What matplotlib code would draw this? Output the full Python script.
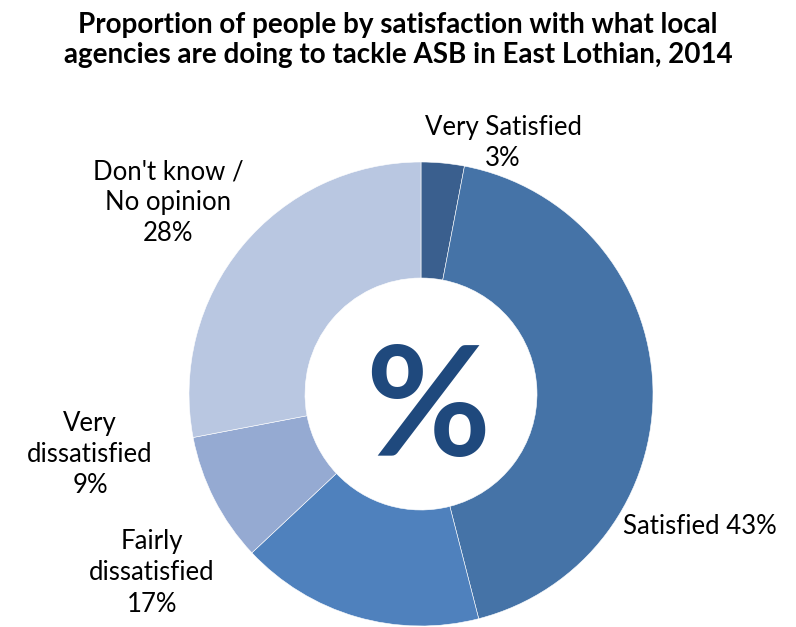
import matplotlib.pyplot as plt

# survey responses, clockwise from 12 o'clock
categories = ['Very Satisfied', 'Satisfied', 'Fairly\ndissatisfied',
              'Very\ndissatisfied', "Don't know /\nNo opinion"]
values = [3, 43, 17, 9, 28]
colors = ['#3A5F8E', '#4573A7', '#4F81BD', '#95AAD2', '#B9C7E1']

W, H = 796, 627
cx, cy, R = 421, 394, 232  # donut centre and radius in pixels

fig = plt.figure(figsize=(W / 100, H / 100), dpi=100)
ax = fig.add_axes([0, 0, 1, 1])

ax.pie(values, colors=colors, startangle=90, counterclock=False, radius=1.0,
       wedgeprops=dict(width=0.5, edgecolor='white', linewidth=0.4))

# pie() rescales the axes, so pin the limits afterwards
ax.set_xlim(-cx / R, (W - cx) / R)
ax.set_ylim(-(H - cy) / R, cy / R)
ax.set_aspect('equal')
ax.axis('off')

ax.text(0.03, -0.02, '%', ha='center', va='center_baseline', fontsize=110,
        fontweight='bold', color='#1F497D', family='Lato')


def px(x, y):
    return (x - cx) / R, (cy - y) / R


label_pos = [(503, 143), (700, 527), (152, 573), (90, 455), (168, 203)]
for name, v, (x, y) in zip(categories, values, label_pos):
    if name == 'Satisfied':
        s = f'{name} {v}%'
    else:
        s = f'{name}\n{v}%'
    ax.text(*px(x, y), s, ha='center', va='center', fontsize=18.5,
            family='Lato', linespacing=1.3, color='black')

fig.text(0.5, 1 - 40 / H,
         'Proportion of people by satisfaction with what local\n'
         'agencies are doing to tackle ASB in East Lothian, 2014',
         ha='center', va='center', fontsize=20, fontweight='bold',
         family='Lato', linespacing=1.2)

fig.savefig('out.png', dpi=100)
